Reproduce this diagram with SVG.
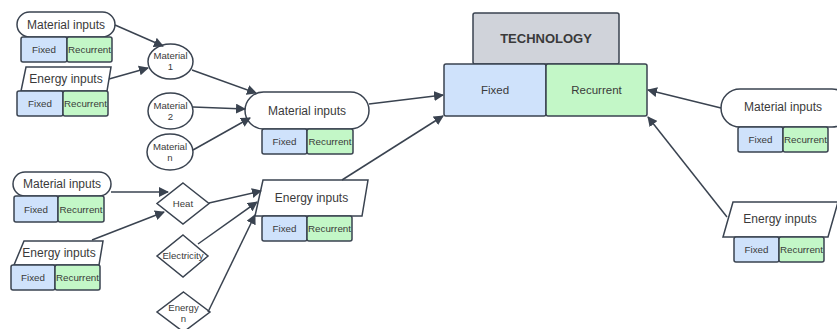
<svg xmlns="http://www.w3.org/2000/svg" width="837" height="329" viewBox="0 0 837 329">
  <defs>
    <marker id="arrow" viewBox="0 0 10 10" refX="9" refY="5" markerWidth="10" markerHeight="10" markerUnits="userSpaceOnUse" orient="auto">
      <path d="M0,0 L10,5 L0,10 z" fill="#3a4350"/>
    </marker>
    <style>
      .shape { fill: #ffffff; stroke: #3a4350; stroke-width: 1.5; }
      .fixed { fill: #cfe2fb; stroke: #3a4350; stroke-width: 1.5; }
      .recur { fill: #c3f7c7; stroke: #3a4350; stroke-width: 1.5; }
      .tech { fill: #d0d3da; stroke: #3a4350; stroke-width: 1.5; }
      text { font-family: "Liberation Sans", Arial, sans-serif; fill: #3a3a3a; text-anchor: middle; dominant-baseline: central; }
      .lbl { font-size: 12px; }
      .sm { font-size: 9.8px; }
      .xs { font-size: 9.6px; }
      .big { font-size: 13px; font-weight: bold; }
      .mid { font-size: 11.5px; }
      .conn { fill: none; stroke: #3a4350; stroke-width: 1.5; marker-end: url(#arrow); }
    </style>
  </defs>

  <!-- Technology block -->
  <g id="technology">
    <rect class="tech" x="473" y="13" width="146" height="51" rx="2"/>
    <text class="big" x="546" y="38.5">TECHNOLOGY</text>
    <rect class="fixed" x="444" y="64" width="102" height="52" rx="2"/>
    <text class="mid" x="495" y="90">Fixed</text>
    <rect class="recur" x="546" y="64" width="101" height="52" rx="2"/>
    <text class="mid" x="596.5" y="90">Recurrent</text>
  </g>

  <!-- Top-left material inputs -->
  <g id="tl-material">
    <rect class="shape" x="17" y="12" width="98" height="25" rx="12.5"/>
    <text class="lbl" x="66" y="24.5">Material inputs</text>
    <rect class="fixed" x="21" y="37" width="46" height="25" rx="2"/>
    <text class="sm" x="44" y="49.5">Fixed</text>
    <rect class="recur" x="67" y="37" width="45" height="25" rx="2"/>
    <text class="sm" x="89.5" y="49.5">Recurrent</text>
  </g>

  <!-- Top-left energy inputs -->
  <g id="tl-energy">
    <path class="shape" d="M26,67 L111,67 L107,91 L21,91 z"/>
    <text class="lbl" x="66" y="79">Energy inputs</text>
    <rect class="fixed" x="17" y="91" width="46" height="25" rx="2"/>
    <text class="sm" x="40" y="103.5">Fixed</text>
    <rect class="recur" x="63" y="91" width="45" height="25" rx="2"/>
    <text class="sm" x="85.5" y="103.5">Recurrent</text>
  </g>

  <!-- Material ellipses -->
  <g id="material-1">
    <ellipse class="shape" cx="170.5" cy="61.5" rx="22.5" ry="17.5"/>
    <text class="xs" x="170.5" y="55.5">Material</text>
    <text class="xs" x="170.5" y="66.5">1</text>
  </g>
  <g id="material-2">
    <ellipse class="shape" cx="170.5" cy="111" rx="22.5" ry="18"/>
    <text class="xs" x="170.5" y="105">Material</text>
    <text class="xs" x="170.5" y="116.5">2</text>
  </g>
  <g id="material-n">
    <ellipse class="shape" cx="170" cy="152" rx="23" ry="18"/>
    <text class="xs" x="170" y="146">Material</text>
    <text class="xs" x="170" y="157.5">n</text>
  </g>

  <!-- Aggregated material inputs -->
  <g id="mid-material">
    <rect class="shape" x="245" y="92" width="124" height="37" rx="18.5"/>
    <text class="lbl" x="307" y="110.5">Material inputs</text>
    <rect class="fixed" x="262" y="129" width="45" height="25" rx="2"/>
    <text class="sm" x="284.5" y="141.5">Fixed</text>
    <rect class="recur" x="307" y="129" width="46" height="25" rx="2"/>
    <text class="sm" x="330" y="141.5">Recurrent</text>
  </g>

  <!-- Bottom-left material inputs -->
  <g id="bl-material">
    <rect class="shape" x="13" y="172" width="98" height="24" rx="12"/>
    <text class="lbl" x="62" y="184">Material inputs</text>
    <rect class="fixed" x="14" y="196" width="44" height="26" rx="2"/>
    <text class="sm" x="36" y="209">Fixed</text>
    <rect class="recur" x="58" y="196" width="46" height="26" rx="2"/>
    <text class="sm" x="81" y="209">Recurrent</text>
  </g>

  <!-- Bottom-left energy inputs -->
  <g id="bl-energy">
    <path class="shape" d="M24,241 L103,241 L99,265 L14,265 z"/>
    <text class="lbl" x="59" y="253">Energy inputs</text>
    <rect class="fixed" x="11" y="265" width="44" height="25" rx="2"/>
    <text class="sm" x="33" y="277.5">Fixed</text>
    <rect class="recur" x="55" y="265" width="45" height="25" rx="2"/>
    <text class="sm" x="77.5" y="277.5">Recurrent</text>
  </g>

  <!-- Energy diamonds -->
  <g id="heat">
    <path class="shape" d="M183,183 L209,203.5 L183,224 L157,203.5 z"/>
    <text class="xs" x="183" y="203.5">Heat</text>
  </g>
  <g id="electricity">
    <path class="shape" d="M183,235 L208,256 L183,277 L157,256 z"/>
    <text class="xs" x="183" y="255">Electricity</text>
  </g>
  <g id="energy-n">
    <path class="shape" d="M183.5,292 L210,312 L183.5,332 L157,312 z"/>
    <text class="xs" x="183.5" y="307">Energy</text>
    <text class="xs" x="183.5" y="318.5">n</text>
  </g>

  <!-- Aggregated energy inputs -->
  <g id="mid-energy">
    <path class="shape" d="M263,180 L368,180 L362,216 L255,216 z"/>
    <text class="lbl" x="311.5" y="198">Energy inputs</text>
    <rect class="fixed" x="262" y="216" width="45" height="25" rx="2"/>
    <text class="sm" x="284.5" y="228.5">Fixed</text>
    <rect class="recur" x="307" y="216" width="45" height="25" rx="2"/>
    <text class="sm" x="329.5" y="228.5">Recurrent</text>
  </g>

  <!-- Right material inputs -->
  <g id="r-material">
    <rect class="shape" x="721" y="89" width="130" height="38" rx="19"/>
    <text class="lbl" x="783" y="107">Material inputs</text>
    <rect class="fixed" x="738" y="127" width="45" height="25" rx="2"/>
    <text class="sm" x="760.5" y="139.5">Fixed</text>
    <rect class="recur" x="783" y="127" width="45" height="25" rx="2"/>
    <text class="sm" x="805.5" y="139.5">Recurrent</text>
  </g>

  <!-- Right energy inputs -->
  <g id="r-energy">
    <path class="shape" d="M733,202 L838,202 L828,237 L723,237 z"/>
    <text class="lbl" x="780" y="219">Energy inputs</text>
    <rect class="fixed" x="734" y="237" width="45" height="25" rx="2"/>
    <text class="sm" x="756.5" y="249.5">Fixed</text>
    <rect class="recur" x="779" y="237" width="45" height="25" rx="2"/>
    <text class="sm" x="801.5" y="249.5">Recurrent</text>
  </g>

  <!-- Connectors -->
  <g id="connectors">
    <line class="conn" x1="115" y1="25" x2="163" y2="46"/>
    <line class="conn" x1="109" y1="79" x2="148" y2="68"/>
    <line class="conn" x1="192" y1="70" x2="256" y2="93"/>
    <line class="conn" x1="193" y1="107" x2="245" y2="109"/>
    <line class="conn" x1="193" y1="150" x2="250" y2="118"/>
    <line class="conn" x1="111" y1="192" x2="168" y2="192"/>
    <line class="conn" x1="92" y1="240" x2="164" y2="212"/>
    <line class="conn" x1="209" y1="203" x2="261" y2="191"/>
    <line class="conn" x1="198" y1="244" x2="257" y2="202"/>
    <line class="conn" x1="208" y1="312" x2="255" y2="215"/>
    <line class="conn" x1="369" y1="104" x2="443" y2="95"/>
    <line class="conn" x1="342" y1="180" x2="443" y2="116"/>
    <line class="conn" x1="721" y1="108" x2="648" y2="90"/>
    <line class="conn" x1="727" y1="217" x2="648" y2="117"/>
  </g>
</svg>
